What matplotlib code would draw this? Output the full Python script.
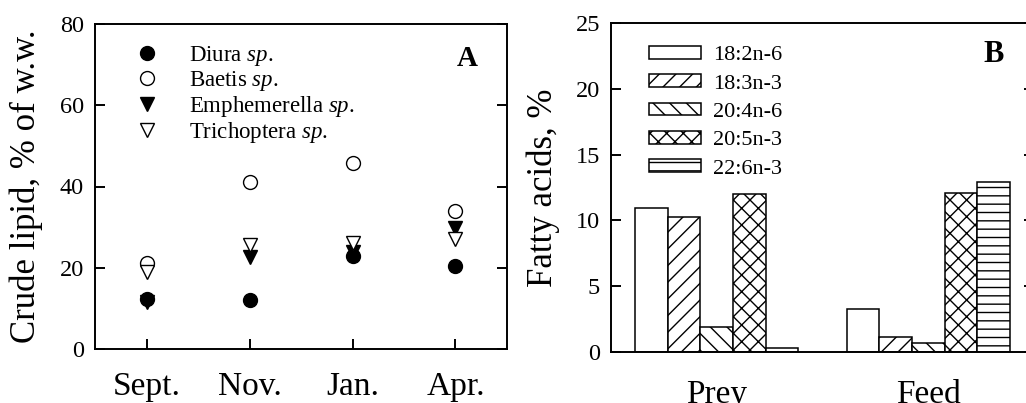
import numpy as np
import matplotlib
matplotlib.use("Agg")
import matplotlib.pyplot as plt

plt.rcParams['font.family'] = ['Liberation Serif', 'DejaVu Serif']
plt.rcParams['mathtext.fontset'] = 'custom'
plt.rcParams['mathtext.rm'] = 'Liberation Serif'
plt.rcParams['mathtext.it'] = 'Liberation Serif:italic'
plt.rcParams['hatch.linewidth'] = 1.0

# Panel A - crude lipid by month
months = ["Sept.", "Nov.", "Jan.", "Apr."]
diura = [12.3, 12.1, 22.9, 20.5]
baetis = [21.1, 41.1, 45.9, 34.0]
emphemerella = [11.6, 22.6, 24.0, 29.7]
trichoptera = [19.0, 25.6, 26.0, 27.0]

# Panel B - fatty acids
groups = ["Prey", "Feed"]
acids = ["18:2n-6", "18:3n-3", "20:4n-6", "20:5n-3", "22:6n-3"]
prey_vals = [10.92, 10.29, 1.9, 12.03, 0.28]
feed_vals = [3.29, 1.16, 0.68, 12.1, 12.92]
hatches = ["", "//", "\\\\", "xx", "--"]

W, H = 1026, 403
fig = plt.figure(figsize=(W / 100, H / 100), dpi=100)
axA = fig.add_axes([95 / W, 1 - 349 / H, (507 - 95) / W, (349 - 24) / H])
axB = fig.add_axes([611 / W, 1 - 352 / H, (1034 - 611) / W, (352 - 23) / H])

lw = 1.4
for ax in (axA, axB):
    for s in ax.spines.values():
        s.set_linewidth(lw)

# ---- A ----
x = np.arange(len(months))
ms = 10
axA.plot(x, diura, 'o', ms=ms, mfc='black', mec='black', label=r'Diura $\it{sp}$.', zorder=3)
axA.plot(x, baetis, 'o', ms=ms, mfc='white', mec='black', mew=1.0, label=r'Baetis $\it{sp}$.', zorder=3)
axA.plot(x, emphemerella, 'v', ms=ms, mfc='black', mec='black', label=r'Emphemerella $\it{sp}$.', zorder=3)
axA.plot(x, trichoptera, 'v', ms=ms, mfc='white', mec='black', mew=1.0, label=r'Trichoptera $\it{sp}$.', zorder=3)

axA.set_xlim(-0.5, 3.5)
axA.set_ylim(0, 80)
axA.set_xticks(x)
axA.set_xticklabels(months, fontsize=24)
axA.set_yticks([0, 20, 40, 60, 80])
axA.tick_params(axis='y', direction='in', left=True, right=True, length=7.2, width=lw,
                labelsize=17.5, pad=8)
axA.tick_params(axis='x', direction='in', length=7.2, width=lw, pad=16)
axA.set_ylabel("Crude lipid, % of w.w.", fontsize=25, labelpad=12)
axA.legend(loc='upper left', bbox_to_anchor=(0.0995, 0.937), frameon=False, fontsize=16.5,
           borderpad=0, borderaxespad=0, handlelength=1.0, handletextpad=1.3,
           labelspacing=0.03, numpoints=1)
axA.text(0.903, 0.895, "A", transform=axA.transAxes, fontsize=21, fontweight='bold',
         ha='center', va='center')

# ---- B ----
w = 0.154
gx = np.arange(len(groups))
for i, name in enumerate(acids):
    vals = [prey_vals[i], feed_vals[i]]
    axB.bar(gx + (i - 2) * w, vals, width=w, facecolor='white', edgecolor='black',
            linewidth=1.1, hatch=hatches[i], label=name)

axB.set_xlim(-0.5, 1.5)
axB.set_ylim(0, 25)
axB.set_xticks(gx)
axB.set_xticklabels(groups, fontsize=24)
axB.set_yticks([0, 5, 10, 15, 20, 25])
axB.tick_params(axis='y', direction='in', left=True, right=True, length=7.2, width=lw,
                labelsize=17.5, pad=8)
axB.tick_params(axis='x', length=0, pad=20)
axB.set_ylabel("Fatty acids, %", fontsize=25, labelpad=11)
axB.legend(loc='upper left', bbox_to_anchor=(0.0898, 0.93), frameon=False, fontsize=16,
           borderpad=0, borderaxespad=0, handlelength=2.35, handleheight=0.5,
           handletextpad=0.54, labelspacing=0.41)
axB.text(0.905, 0.905, "B", transform=axB.transAxes, fontsize=22, fontweight='bold',
         ha='center', va='center')

fig.savefig("out.png", dpi=100)
